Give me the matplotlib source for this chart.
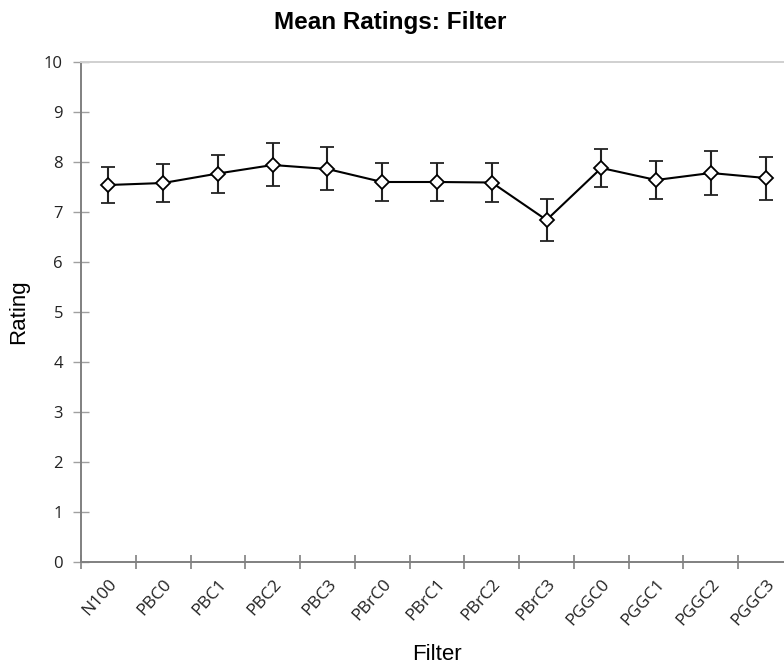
import matplotlib.pyplot as plt

filters = ["N100", "PBC0", "PBC1", "PBC2", "PBC3", "PBrC0", "PBrC1",
           "PBrC2", "PBrC3", "PGGC0", "PGGC1", "PGGC2", "PGGC3"]
mean_rating = [7.54, 7.58, 7.77, 7.94, 7.86, 7.60, 7.60,
               7.59, 6.84, 7.88, 7.64, 7.78, 7.68]
error = [0.36, 0.375, 0.38, 0.43, 0.43, 0.375, 0.38,
         0.395, 0.42, 0.38, 0.375, 0.445, 0.43]
y_ticks = list(range(0, 11))

fig = plt.figure(figsize=(7.84, 6.66), dpi=100)
# plot area runs off the right edge like in the original screenshot
ax = fig.add_axes([81/784, 104/666, 712/784, 500/666])

x = list(range(len(filters)))
ax.errorbar(x, mean_rating, yerr=error, color="black", lw=1.5,
            ecolor="#222222", elinewidth=1.5, capsize=5, capthick=1.5,
            marker="D", markersize=7.5, markerfacecolor="white",
            markeredgecolor="black", markeredgewidth=1.3, zorder=3)

ax.set_xlim(-0.5, len(filters) - 0.5)
ax.set_ylim(0, 10)
ax.set_yticks(y_ticks)
# ticks between categories, labels centred on them
ax.set_xticks([i - 0.5 for i in range(len(filters) + 1)])
ax.set_xticklabels([])
ax.set_xticks(x, minor=True)
ax.set_xticklabels(filters, minor=True, rotation=48, ha="right",
                   rotation_mode="anchor", fontsize=12.5, family="Open Sans",
                   color="#222222")
ax.tick_params(axis="x", which="minor", length=0, pad=10)
ax.tick_params(axis="x", which="major", direction="inout", length=10,
               color="#808080", width=1.2)
ax.tick_params(axis="y", direction="inout", length=12, color="#a0a0a0",
               width=1, pad=7)
for lbl in ax.get_yticklabels():
    lbl.set_family("Open Sans")
    lbl.set_fontsize(12)
    lbl.set_color("#222222")

for side in ["left", "bottom"]:
    ax.spines[side].set_color("#808080")
    ax.spines[side].set_linewidth(1.4)
ax.spines["right"].set_visible(False)
ax.spines["top"].set_color("#d0d0d0")
ax.spines["top"].set_linewidth(1.4)

ax.set_xlabel("Filter", fontsize=16, family="Liberation Sans", labelpad=11)
ax.set_ylabel("Rating", fontsize=16, family="Liberation Sans", labelpad=11)
fig.text(390/784, 1 - 22/666, "Mean Ratings: Filter", ha="center", va="center",
         fontsize=17.5, fontweight="bold", family="Liberation Sans")

fig.savefig("out.png", dpi=100)
